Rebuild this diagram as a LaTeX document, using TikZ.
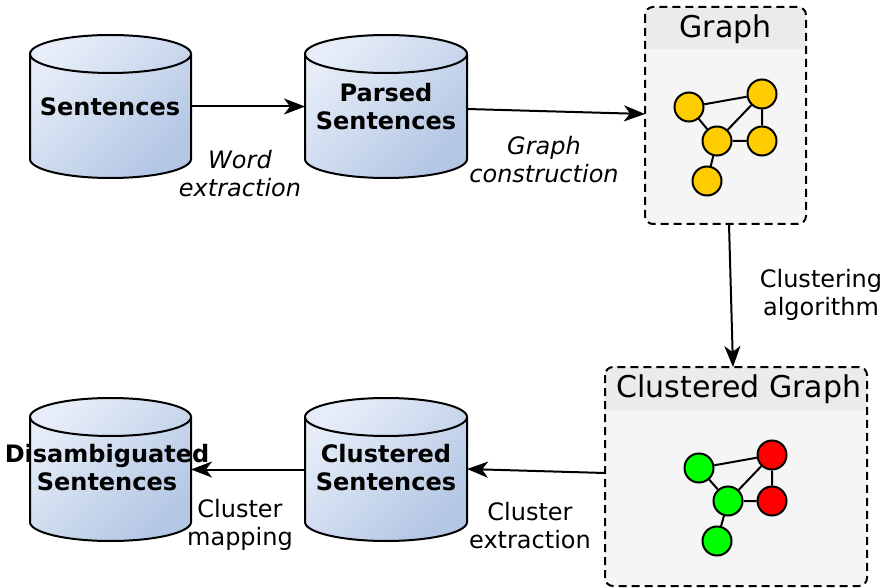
\documentclass[tikz,border=0pt]{standalone}
\usepackage{fontspec}
\setmainfont{DejaVu Sans}
\usetikzlibrary{arrows.meta}
\definecolor{cyltop}{HTML}{E6EDF8}
\definecolor{cylbot}{HTML}{B3C6E4}
\definecolor{boxfill}{HTML}{F5F5F5}
\definecolor{headfill}{HTML}{EBEBEB}
\definecolor{gold}{HTML}{FFCC00}
\definecolor{vgreen}{HTML}{00FF00}
\definecolor{vred}{HTML}{FF0000}
\tikzset{
  lbl/.style={font=\fontsize{24}{28}\selectfont, align=center, inner sep=0pt},
  cyltext/.style={font=\fontsize{24}{28}\selectfont\bfseries, align=center, inner sep=0pt},
  ttl/.style={font=\fontsize{30}{34}\selectfont, inner sep=0pt},
  flow/.style={line width=2pt, -{Stealth[length=21pt, width=16pt, inset=6pt]}},
  gnode/.style={circle, draw=black, line width=2pt, minimum size=29pt, inner sep=0pt},
  gedge/.style={line width=2pt},
  cylline/.style={line width=2pt, draw=black},
  dbox/.style={line width=2pt, dash pattern=on 8pt off 5pt, rounded corners=8pt},
}
\newcommand{\mycyl}[5]{% x1 x2 ytop ybot name
  \path[top color=cyltop, bottom color=cylbot, shading angle=45]
    (#1,#3+19) -- (#1,#4-19) arc[start angle=180, end angle=0, x radius={(#2-#1)/2}, y radius=19]
    -- (#2,#3+19) arc[start angle=0, end angle=-180, x radius={(#2-#1)/2}, y radius=19] -- cycle;
  \draw[cylline] (#1,#3+19) -- (#1,#4-19) arc[start angle=180, end angle=0, x radius={(#2-#1)/2}, y radius=19]
    -- (#2,#3+19);
  \draw[cylline] ({(#1+#2)/2},#3+19) ellipse[x radius={(#2-#1)/2}, y radius=19];
  \coordinate (#5-w) at (#1,{(#3+#4)/2});
  \coordinate (#5-e) at (#2,{(#3+#4)/2});
}
\begin{document}
\begin{tikzpicture}[x=1pt, y=-1pt]
\useasboundingbox (0,0) rectangle (884,588);

% cylinders
\mycyl{30}{191}{35}{178}{s}
\mycyl{305}{467}{35}{178}{p}
\mycyl{30}{191}{398}{541}{d}
\mycyl{305}{467}{398}{541}{c}
\node[cyltext] (stxt) at (110,107) {Sentences};
\node[cyltext] (ptxt) at (386,107) {Parsed\\Sentences};
\node[cyltext] (dtxt) at (107,468) {Disambiguated\\Sentences};
\node[cyltext] (ctxt) at (386,468) {Clustered\\Sentences};

% Graph box
\begin{scope}
\clip[rounded corners=8pt] (645,7) rectangle (806,224);
\fill[boxfill] (645,7) rectangle (806,224);
\fill[headfill] (645,7) rectangle (806,49);
\end{scope}
\draw[dbox] (645,7) rectangle (806,224);
\node[ttl] (gt) at (725.5,29) {Graph};
\coordinate (gbox-w) at (645,114);
\coordinate (gbox-s) at (729,224);

% Clustered graph box
\begin{scope}
\clip[rounded corners=8pt] (605,367) rectangle (867,586);
\fill[boxfill] (605,367) rectangle (867,586);
\fill[headfill] (605,367) rectangle (867,411);
\end{scope}
\draw[dbox] (605,367) rectangle (867,586);
\node[ttl] (ct) at (739,389) {Clustered Graph};
\coordinate (cbox-n) at (733,367);
\coordinate (cbox-w) at (605,473);

% graph nodes
\node[gnode, fill=gold] (a1) at (689,107) {};
\node[gnode, fill=gold] (a2) at (762,94) {};
\node[gnode, fill=gold] (a3) at (717,141) {};
\node[gnode, fill=gold] (a4) at (762,141) {};
\node[gnode, fill=gold] (a5) at (707,181) {};
\draw[gedge] (a1) -- (a2) (a1) -- (a3) (a3) -- (a2) (a2) -- (a4) (a3) -- (a4) (a3) -- (a5);

% clustered nodes
\node[gnode, fill=vgreen] (b1) at (699,468) {};
\node[gnode, fill=vred] (b2) at (772,455) {};
\node[gnode, fill=vgreen] (b3) at (728,501) {};
\node[gnode, fill=vred] (b4) at (772,501) {};
\node[gnode, fill=vgreen] (b5) at (717,541) {};
\draw[gedge] (b1) -- (b2) (b1) -- (b3) (b3) -- (b2) (b2) -- (b4) (b3) -- (b4) (b3) -- (b5);

% flows
\draw[flow] (s-e) -- (p-w);
\draw[flow] (467,109) -- (gbox-w);
\draw[flow] (gbox-s) -- (cbox-n);
\draw[flow] (cbox-w) -- (467,469);
\draw[flow] (c-w) -- (d-e);

% labels
\node[lbl, font=\fontsize{24}{28}\selectfont\itshape] (l1) at (240,174) {Word\\extraction};
\node[lbl, font=\fontsize{24}{28}\selectfont\itshape] (l2) at (544,160) {Graph\\construction};
\node[lbl] (l3) at (821,295) {Clustering\\algorithm};
\node[lbl] (l4) at (530,526) {Cluster\\extraction};
\node[lbl] (l5) at (240,525) {Cluster\\mapping};
\end{tikzpicture}
\end{document}
